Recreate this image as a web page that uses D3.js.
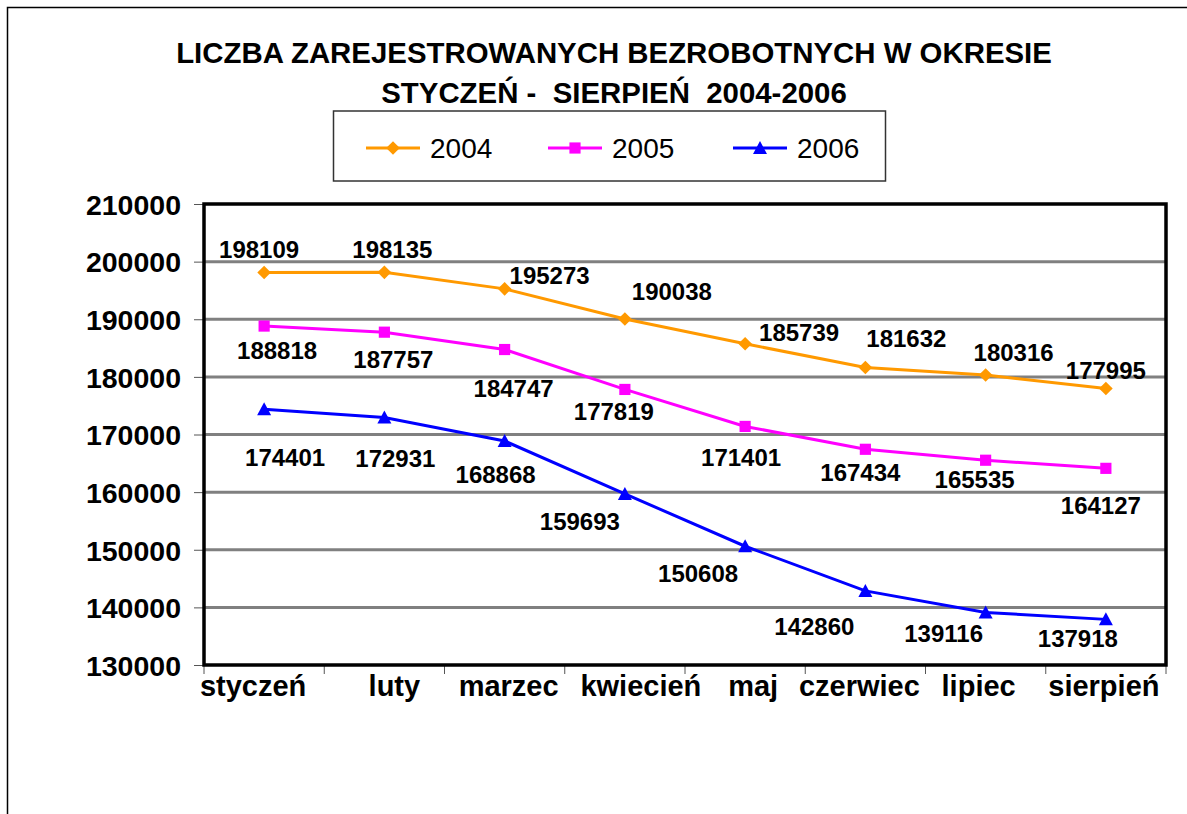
<!DOCTYPE html>
<html><head><meta charset="utf-8">
<script src="https://cdn.jsdelivr.net/npm/d3@7"></script>
<style>body{margin:0;background:#fff;} text{font-family:"Liberation Sans",Arial,sans-serif;}</style>
</head><body><svg id="c" width="1187" height="814"></svg>
<script>
// ---- data ----
const months = ["styczeń","luty","marzec","kwiecień","maj","czerwiec","lipiec","sierpień"];
const years = ["2004","2005","2006"];
const v2004 = [198109,198135,195273,190038,185739,181632,180316,177995];
const v2005 = [188818,187757,184747,177819,171401,167434,165535,164127];
const v2006 = [174401,172931,168868,159693,150608,142860,139116,137918];
const yTicks = [130000,140000,150000,160000,170000,180000,190000,200000,210000];
const titleLines = ["LICZBA ZAREJESTROWANYCH BEZROBOTNYCH W OKRESIE","STYCZEŃ -  SIERPIEŃ  2004-2006"];

// ---- layout (label offsets relative to point / category centre) ----
const lab2004 = [[-5,-23],[8,-23],[45,-14],[47,-28],[54,-11],[41,-29],[28,-23],[0,-18]];
const lab2005 = [[13,24],[9,27],[9,39],[-11,22],[-4,31],[-5,23],[-11,19],[-5,37]];
const lab2006 = [[21,48],[11,41],[-9,33],[-45,27],[-47,27],[-51,35],[-42,21],[-28,19]];
const xLabelNudge = [-11,10,4,16,8,-6,-7,-2];

const series = [
  {name: years[0], values: v2004, color: "#FF9900", sym: "diamond", labels: lab2004},
  {name: years[1], values: v2005, color: "#FF00FF", sym: "square", labels: lab2005},
  {name: years[2], values: v2006, color: "#0000FF", sym: "triangle", labels: lab2006}
];

const svg = d3.select("#c");
const L = 204, R = 1166, T = 204, B = 665;

// outer frame (cut off at right/bottom)
svg.append("rect").attr("x",7.5).attr("y",7.5).attr("width",1300).attr("height",1000)
  .attr("fill","none").attr("stroke","#000").attr("stroke-width",1.5);

// title
svg.append("g").selectAll("text").data(titleLines).join("text")
  .attr("x",614).attr("y",(d,i)=>63+i*39.5)
  .attr("text-anchor","middle").attr("font-weight","bold").attr("font-size",29.4)
  .style("white-space","pre").text(d=>d);

const x = d3.scaleBand().domain(months).range([L,R]);
const y = d3.scaleLinear().domain([130000,210000]).range([B,T]);

// gridlines
svg.append("g").selectAll("line").data(yTicks.filter(t=>t>130000 && t<210000)).join("line")
  .attr("x1",L).attr("x2",R).attr("y1",d=>y(d)).attr("y2",d=>y(d))
  .attr("stroke","#808080").attr("stroke-width",3);

// y axis
const yAxis = svg.append("g").attr("transform",`translate(${L},0)`)
  .call(d3.axisLeft(y).tickValues(yTicks).tickSize(10).tickPadding(13).tickFormat(d3.format("d")));
yAxis.select(".domain").remove();
yAxis.selectAll(".tick line").attr("stroke","#555").attr("stroke-width",1);
yAxis.selectAll(".tick text").attr("font-size",28.5).attr("font-weight","bold")
  .attr("font-family",'"Liberation Sans",Arial,sans-serif').attr("fill","#000").attr("dy","0.36em");

// x axis
const xAxis = svg.append("g").attr("transform",`translate(0,${B})`)
  .call(d3.axisBottom(x).tickSize(0).tickPadding(0));
xAxis.select(".domain").remove();
xAxis.selectAll(".tick text").attr("font-size",29).attr("font-weight","bold")
  .attr("font-family",'"Liberation Sans",Arial,sans-serif').attr("fill","#000")
  .attr("dy",null).attr("y",31).attr("x",(d,i)=>xLabelNudge[i]);
// category boundary ticks
const bounds = months.map(m=>x(m)).concat([R]);
svg.append("g").selectAll("line").data(bounds).join("line")
  .attr("x1",d=>d).attr("x2",d=>d).attr("y1",B).attr("y2",B+9)
  .attr("stroke","#555").attr("stroke-width",1);

// plot frame
svg.append("rect").attr("x",L).attr("y",T).attr("width",R-L).attr("height",B-T)
  .attr("fill","none").attr("stroke","#000").attr("stroke-width",3.5);

const cx = m => x(m) + x.bandwidth()/2;
const symPath = {
  diamond: "M0,-6.8L6.8,0L0,6.8L-6.8,0Z",
  square: d3.symbol(d3.symbolSquare, 125)(),
  triangle: "M0,-7L7,6L-7,6Z"
};

const line = d3.line().x((d,i)=>cx(months[i])).y(d=>y(d));
series.forEach(s=>{
  const g = svg.append("g");
  g.append("path").attr("d",line(s.values)).attr("fill","none")
    .attr("stroke",s.color).attr("stroke-width",3);
  g.selectAll("path.m").data(s.values).join("path").attr("class","m")
    .attr("d",symPath[s.sym]).attr("fill",s.color)
    .attr("transform",(d,i)=>`translate(${cx(months[i])},${y(d)})`);
  g.selectAll("text").data(s.values).join("text")
    .attr("x",(d,i)=>cx(months[i])+s.labels[i][0])
    .attr("y",(d,i)=>y(d)+s.labels[i][1])
    .attr("dy","0.36em").attr("text-anchor","middle")
    .attr("font-size",24).attr("font-weight","bold").text(d=>d);
});

// legend
const lg = svg.append("g");
lg.append("rect").attr("x",333.5).attr("y",111).attr("width",552).attr("height",70)
  .attr("fill","#fff").attr("stroke","#333").attr("stroke-width",1.5);
const lx = [366,548,733];
series.forEach((s,i)=>{
  lg.append("line").attr("x1",lx[i]).attr("x2",lx[i]+54).attr("y1",148).attr("y2",148)
    .attr("stroke",s.color).attr("stroke-width",3);
  lg.append("path").attr("d",symPath[s.sym]).attr("fill",s.color)
    .attr("transform",`translate(${lx[i]+27},148)`);
  lg.append("text").attr("x",lx[i]+64).attr("y",158).attr("font-size",28).text(s.name);
});
</script></body></html>
